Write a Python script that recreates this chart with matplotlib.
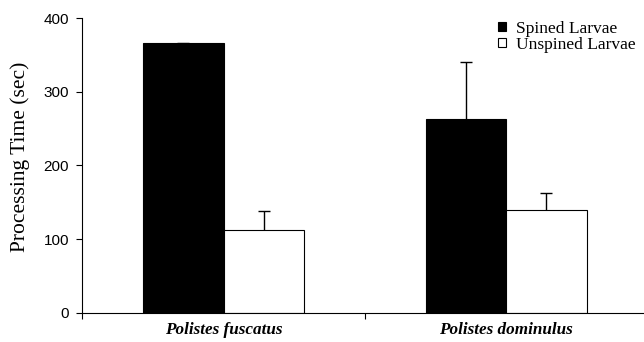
import matplotlib
matplotlib.use("Agg")
import matplotlib.pyplot as plt
import numpy as np

# values
species = ["Polistes fuscatus", "Polistes dominulus"]
spined = [366, 263]
spined_err = [1, 77]
unspined = [113, 140]
unspined_err = [25, 23]
series_labels = ["Spined Larvae", "Unspined Larvae"]

plt.rcParams["font.family"] = ["Liberation Serif", "DejaVu Serif"]

fig = plt.figure(figsize=(6.44, 3.42), dpi=100)
ax = fig.add_axes([82.3 / 644, 1 - 312.7 / 342, 565.1 / 644, 294.4 / 342])

x = np.arange(len(species)) + 0.5
w = 0.285
b1 = ax.bar(x - w / 2, spined, w, color="black", edgecolor="black", linewidth=0.8,
            label=series_labels[0])
b2 = ax.bar(x + w / 2, unspined, w, color="white", edgecolor="black", linewidth=0.8,
            label=series_labels[1])

# upward-only error bars
for xs, vals, errs in [(x - w / 2, spined, spined_err), (x + w / 2, unspined, unspined_err)]:
    eb = ax.errorbar(xs, vals, yerr=[np.zeros(len(vals)), errs], fmt="none",
                     ecolor="black", elinewidth=1, capsize=4, capthick=1)
    eb[1][0].set_visible(False)

ax.set_xlim(0, 2)
ax.set_ylim(0, 400)
ax.set_yticks([0, 100, 200, 300, 400])
ax.set_xticks([0, 1, 2])
ax.set_xticklabels([])
ax.set_xticks(x, minor=True)
ax.set_xticklabels(species, minor=True, fontsize=12.3, fontstyle="italic", fontweight="bold")
ax.tick_params(axis="x", which="minor", length=0, pad=7)
ax.tick_params(axis="x", which="major", direction="out", length=4, width=0.8)
ax.tick_params(axis="y", direction="out", length=4.5, width=0.8, pad=5, labelsize=11)
for lab in ax.get_yticklabels():
    lab.set_family(["Liberation Sans", "DejaVu Sans"])

for s in ["top", "right"]:
    ax.spines[s].set_visible(False)
ax.spines["left"].set_linewidth(0.8)
ax.spines["bottom"].set_linewidth(0.8)

ax.set_ylabel("Processing Time (sec)", fontsize=15.5)
ax.yaxis.set_label_coords(-0.0925, 0.53)

leg = fig.legend(handles=[b1, b2], loc="upper left", bbox_to_anchor=(498 / 644, 1 - 21 / 342),
                 frameon=False, fontsize=12.5, handlelength=0.45, handleheight=0.45,
                 handletextpad=0.6, labelspacing=0.0, borderpad=0, borderaxespad=0)
for h in leg.legend_handles:
    h.set_linewidth(0.8)

fig.savefig("out.png", dpi=100)
